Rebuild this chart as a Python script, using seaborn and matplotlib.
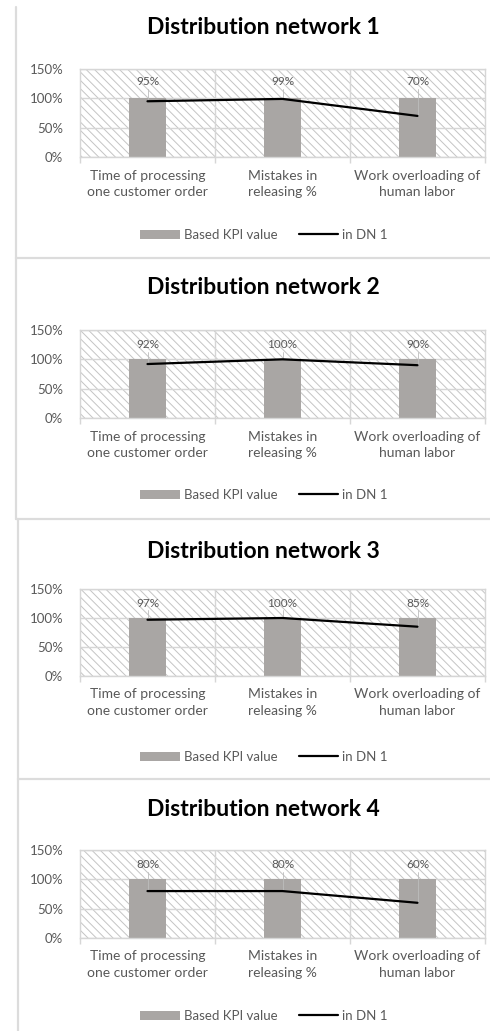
import matplotlib
matplotlib.use("Agg")
import matplotlib.pyplot as plt
from matplotlib.patches import Rectangle, Patch
from matplotlib.lines import Line2D
import seaborn as sns
import pandas as pd

# --- data -------------------------------------------------------------
categories = [
    "Time of processing\none customer order",
    "Mistakes in\nreleasing %",
    "Work overloading of\nhuman labor",
]
base_kpi = [1.00, 1.00, 1.00]
dn1_values = [0.95, 0.99, 0.70]
dn2_values = [0.92, 1.00, 0.90]
dn3_values = [0.97, 1.00, 0.85]
dn4_values = [0.80, 0.80, 0.60]
panel_titles = [
    "Distribution network 1",
    "Distribution network 2",
    "Distribution network 3",
    "Distribution network 4",
]
y_ticks = [0.0, 0.5, 1.0, 1.5]
y_tick_labels = ["0%", "50%", "100%", "150%"]
legend_labels = ["Based KPI value", "in DN 1"]

# --- style ------------------------------------------------------------
sns.set_theme(style="white")
plt.rcParams["font.family"] = ["Lato", "DejaVu Sans"]
plt.rcParams["hatch.linewidth"] = 0.7

W, H = 490, 1031
fig = plt.figure(figsize=(W / 100, H / 100), dpi=100)

BAR_COLOR = "#a9a6a4"
GRID_COLOR = "#d6d6d6"
HATCH_COLOR = "#c4c4c4"
TEXT_COLOR = "#595959"
BORDER_COLOR = "#dcdcdc"

# pixel layout of each panel: (axes top, axes bottom, title y, legend y)
layout = [
    (69, 157, 28, 235),
    (330, 418, 288, 495),
    (589, 676, 552, 757),
    (850, 938, 810, 1016),
]
label_heights = [1.28, 1.25, 1.25, 1.25]
series = [dn1_values, dn2_values, dn3_values, dn4_values]

ax_left, ax_right = 80, 485


def fx(px):
    return px / W


def fy(py):
    return 1 - py / H


for title, values, (top, bottom, ty, ly), lab_h in zip(
    panel_titles, series, layout, label_heights
):
    ax = fig.add_axes([fx(ax_left), fy(bottom), (ax_right - ax_left) / W, (bottom - top) / H])
    ax.set_facecolor("white")
    # hatched plot area
    ax.add_patch(Rectangle((0, 0), 1, 1, transform=ax.transAxes, facecolor="white",
                           edgecolor=HATCH_COLOR, hatch="\\\\\\\\", lw=0, zorder=0))

    df = pd.DataFrame({"category": categories, "base": base_kpi, "value": values})
    sns.barplot(data=df, x="category", y="base", color=BAR_COLOR, saturation=1,
                width=0.28, ax=ax, zorder=2, linewidth=0)
    positions = list(range(len(categories)))
    sns.lineplot(x=positions, y=df["value"], color="black", lw=1.6, ax=ax, zorder=4,
                 sort=False)

    # data labels with thin leader lines
    for xpos, v in zip(positions, values):
        ax.plot([xpos, xpos], [lab_h - 0.12, v], color="#bdbdbd", lw=0.6, zorder=3)
        ax.text(xpos, lab_h, f"{v:.0%}", ha="center", va="center", fontsize=8.5,
                color=TEXT_COLOR, zorder=5)

    ax.set_xlim(-0.5, len(categories) - 0.5)
    ax.set_ylim(0, 1.5)
    ax.set_yticks(y_ticks)
    ax.set_yticklabels(y_tick_labels)
    ax.set_xlabel("")
    ax.set_ylabel("")

    # grid: horizontal at value ticks, vertical at category boundaries
    for yv in y_ticks:
        ax.axhline(yv, color=GRID_COLOR, lw=1.0, zorder=1)
    bounds = [i + 0.5 for i in positions[:-1]]
    for xb in bounds:
        ax.axvline(xb, color=GRID_COLOR, lw=1.0, zorder=1)
    ax.set_xticks([-0.5] + bounds + [len(categories) - 0.5], minor=True)
    ax.tick_params(axis="x", which="minor", length=4, width=1.0, color=GRID_COLOR,
                   direction="out", bottom=True)
    ax.tick_params(axis="x", which="major", length=0, pad=9, labelsize=10,
                   labelcolor=TEXT_COLOR)
    for lbl in ax.get_xticklabels():
        lbl.set_linespacing(1.45)
    ax.tick_params(axis="y", length=0, pad=12, labelsize=9.5, labelcolor=TEXT_COLOR)
    for sp in ax.spines.values():
        sp.set_color(GRID_COLOR)
        sp.set_linewidth(1.0)
        sp.set_visible(True)

    fig.text(fx(263), fy(ty), title, ha="center", va="center", fontsize=16.5,
             fontweight="bold", color="black")

    handles = [Patch(facecolor=BAR_COLOR, edgecolor="none"),
               Line2D([], [], color="black", lw=1.6)]
    fig.legend(handles, legend_labels, loc="center", bbox_to_anchor=(fx(264), fy(ly)),
               ncol=2, frameon=False, fontsize=9.5, labelcolor=TEXT_COLOR,
               handlelength=3.0, handletextpad=0.3, columnspacing=1.6,
               handleheight=0.7)

# panel borders
border_segments = [
    ((16, 7), (16, 258)), ((16, 258), (490, 258)),
    ((16, 258), (16, 519)), ((16, 519), (490, 519)),
    ((18, 519), (18, 779)), ((18, 779), (490, 779)),
    ((18, 779), (18, 1031)),
]
for (x0, y0), (x1, y1) in border_segments:
    fig.add_artist(Line2D([fx(x0), fx(x1)], [fy(y0), fy(y1)], color=BORDER_COLOR,
                          lw=1.6, transform=fig.transFigure))

fig.savefig("out.png", dpi=100, facecolor="white")
